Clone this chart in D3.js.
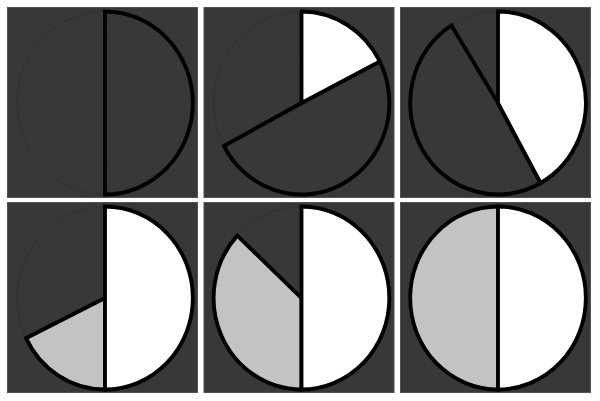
<!DOCTYPE html>
<html><head><meta charset="utf-8">
<script src="https://cdn.jsdelivr.net/npm/d3@7"></script>
<style>html,body{margin:0;padding:0;background:#fff;}svg{display:block;}</style>
</head><body>
<svg id="chart" width="600" height="401"></svg>
<script>
// Frames of the pie transition (slice sizes in degrees, clockwise from 12 o'clock)
const frames = ["f1", "f2", "f3", "f4", "f5", "f6"];
const whiteSlice = [0, 63, 151, 180, 180, 180];
const darkSlice  = [180, 179, 177, 0, 0, 0];
const greySlice  = [0, 0, 0, 64, 133, 180];
const restSlice  = frames.map((f, i) => 360 - whiteSlice[i] - darkSlice[i] - greySlice[i]);
const sliceNames = ["white", "dark", "grey", "rest"];

const styles = {
  white: {fill: "#ffffff", stroke: "#000", sw: 4},
  dark:  {fill: "#383838", stroke: "#000", sw: 4},
  grey:  {fill: "#c3c3c3", stroke: "#000", sw: 4},
  rest:  {fill: "none", stroke: "#303030", sw: 1}
};

const svg = d3.select("#chart");
const cols = 3, panelW = 190, panelH = 190;
const xPos = d3.scalePoint().domain([0, 1, 2]).range([7, 400]);
const yPos = d3.scalePoint().domain([0, 1]).range([7, 202]);

const pie = d3.pie().sort(null).value(d => d.v);
const arc = d3.arc().innerRadius(0).outerRadius(91.5);

frames.forEach((f, i) => {
  const c = i % cols, r = Math.floor(i / cols);
  const g = svg.append("g").attr("transform", `translate(${xPos(c)},${yPos(r)})`);
  g.append("rect").attr("x", 0.5).attr("y", 0.5).attr("width", panelW).attr("height", panelH)
    .attr("fill", "#383838").attr("stroke", "#525252").attr("stroke-width", 1);
  const data = [
    {k: "white", v: whiteSlice[i]},
    {k: "dark", v: darkSlice[i]},
    {k: "grey", v: greySlice[i]},
    {k: "rest", v: restSlice[i]}
  ];
  const arcs = pie(data);
  const pg = g.append("g").attr("transform", `translate(${panelW / 2 + 3},${panelH / 2 + 1}) scale(0.96,1)`);
  const order = ["rest", "grey", "dark", "white"];
  order.forEach(k => {
    const a = arcs.find(d => d.data.k === k);
    if (a.endAngle - a.startAngle <= 0) return;
    const s = styles[k];
    pg.append("path").attr("d", arc(a))
      .attr("fill", s.fill).attr("stroke", s.stroke)
      .attr("stroke-width", s.sw).attr("stroke-linejoin", "miter");
  });
});
</script>
</body></html>
